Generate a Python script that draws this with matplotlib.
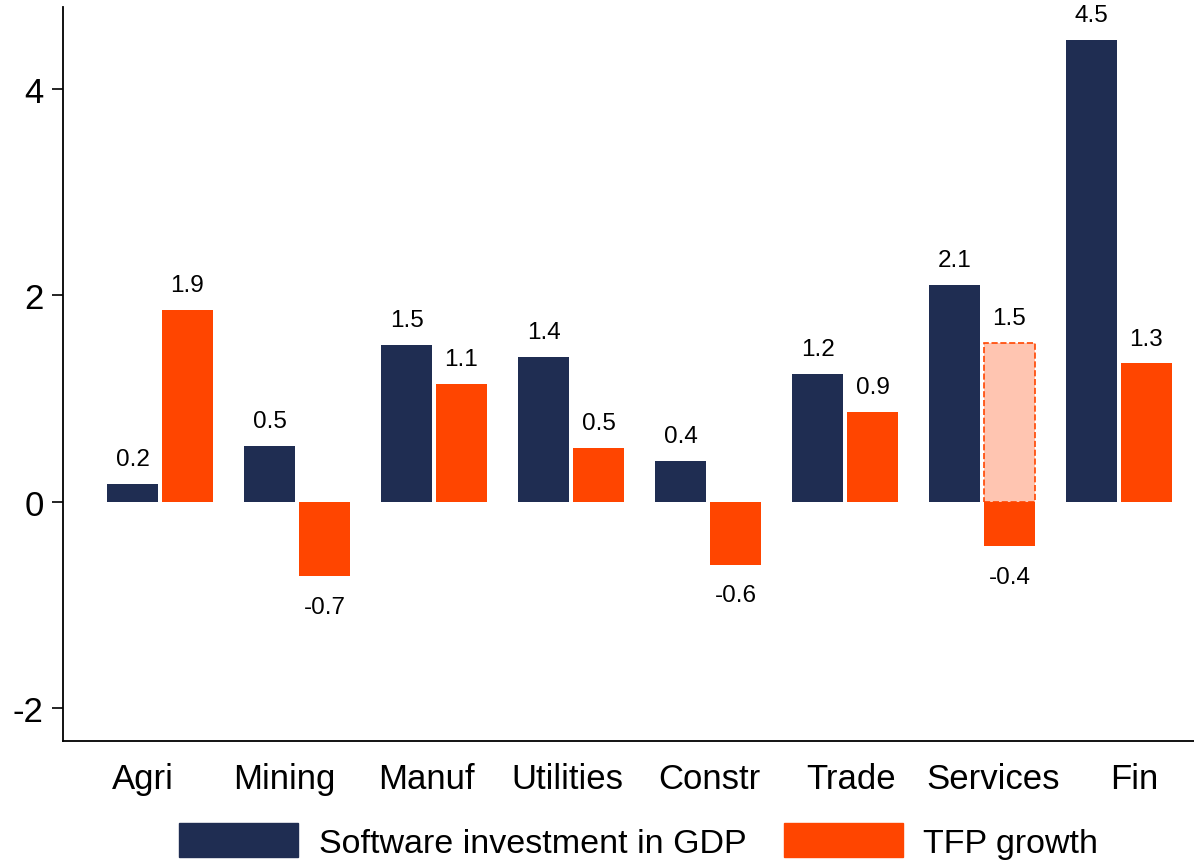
import numpy as np
import matplotlib.pyplot as plt
from matplotlib.patches import Patch

plt.rcParams['font.family'] = ['Liberation Sans', 'DejaVu Sans']

sectors = ['Agri', 'Mining', 'Manuf', 'Utilities', 'Constr', 'Trade', 'Services', 'Fin']
software = [0.17, 0.54, 1.52, 1.40, 0.40, 1.24, 2.10, 4.47]
tfp = [1.86, -0.72, 1.14, 0.52, -0.61, 0.87, -0.43, 1.34]
# Services TFP growth shown as a dashed ghost bar too
services_alt = 1.54

navy = '#1f2d52'
orange = '#ff4500'
light = '#ffc5b1'

fig = plt.figure(figsize=(11.94, 8.62), dpi=100)
ax = fig.add_axes([0.0528, 0.1392, 0.9472, 0.8515])

x = np.arange(len(sectors))
w = 0.375
off = 0.2

ax.bar(x - off, software, w, color=navy, zorder=2)
ax.bar(x + off, tfp, w, color=orange, zorder=2)
si = sectors.index('Services')
ax.bar(si + off, services_alt, w, color=light, edgecolor=orange,
       linestyle='--', linewidth=1.2, zorder=1)


def label(xpos, val):
    if val >= 0:
        ax.annotate(f'{val:.1f}', (xpos, val), xytext=(0, 10), textcoords='offset points',
                    ha='center', va='bottom', fontsize=17.5)
    else:
        ax.annotate(f'{val:.1f}', (xpos, val), xytext=(0, -14), textcoords='offset points',
                    ha='center', va='top', fontsize=17.5)


for i in range(len(sectors)):
    label(x[i] - off, software[i])
    label(x[i] + off, tfp[i])
label(si + off, services_alt)

ax.set_xlim(-0.708, 7.547)
ax.set_ylim(-2.315, 4.79)
ax.set_yticks([-2, 0, 2, 4])
ax.set_yticklabels(['-2', '0', '2', '4'])
# category labels sit slightly more spread out than the bar groups
ax.set_xticks(x * 1.0336 - 0.124)
ax.set_xticklabels(sectors)
ax.tick_params(axis='y', labelsize=25, length=8, width=1.2, pad=6)
ax.tick_params(axis='x', labelsize=25, length=0, pad=15)
for s in ['top', 'right']:
    ax.spines[s].set_visible(False)
for s in ['left', 'bottom']:
    ax.spines[s].set_linewidth(1.3)

handles = [Patch(color=navy, label='Software investment in GDP'),
           Patch(color=orange, label='TFP growth')]
fig.legend(handles=handles, loc='lower center', bbox_to_anchor=(0.535, -0.017), ncol=2,
           frameon=False, fontsize=24.5, handlelength=3.5, handleheight=1.15,
           handletextpad=0.6, columnspacing=1.1, borderpad=0.0)

fig.savefig('out.png', dpi=100)
